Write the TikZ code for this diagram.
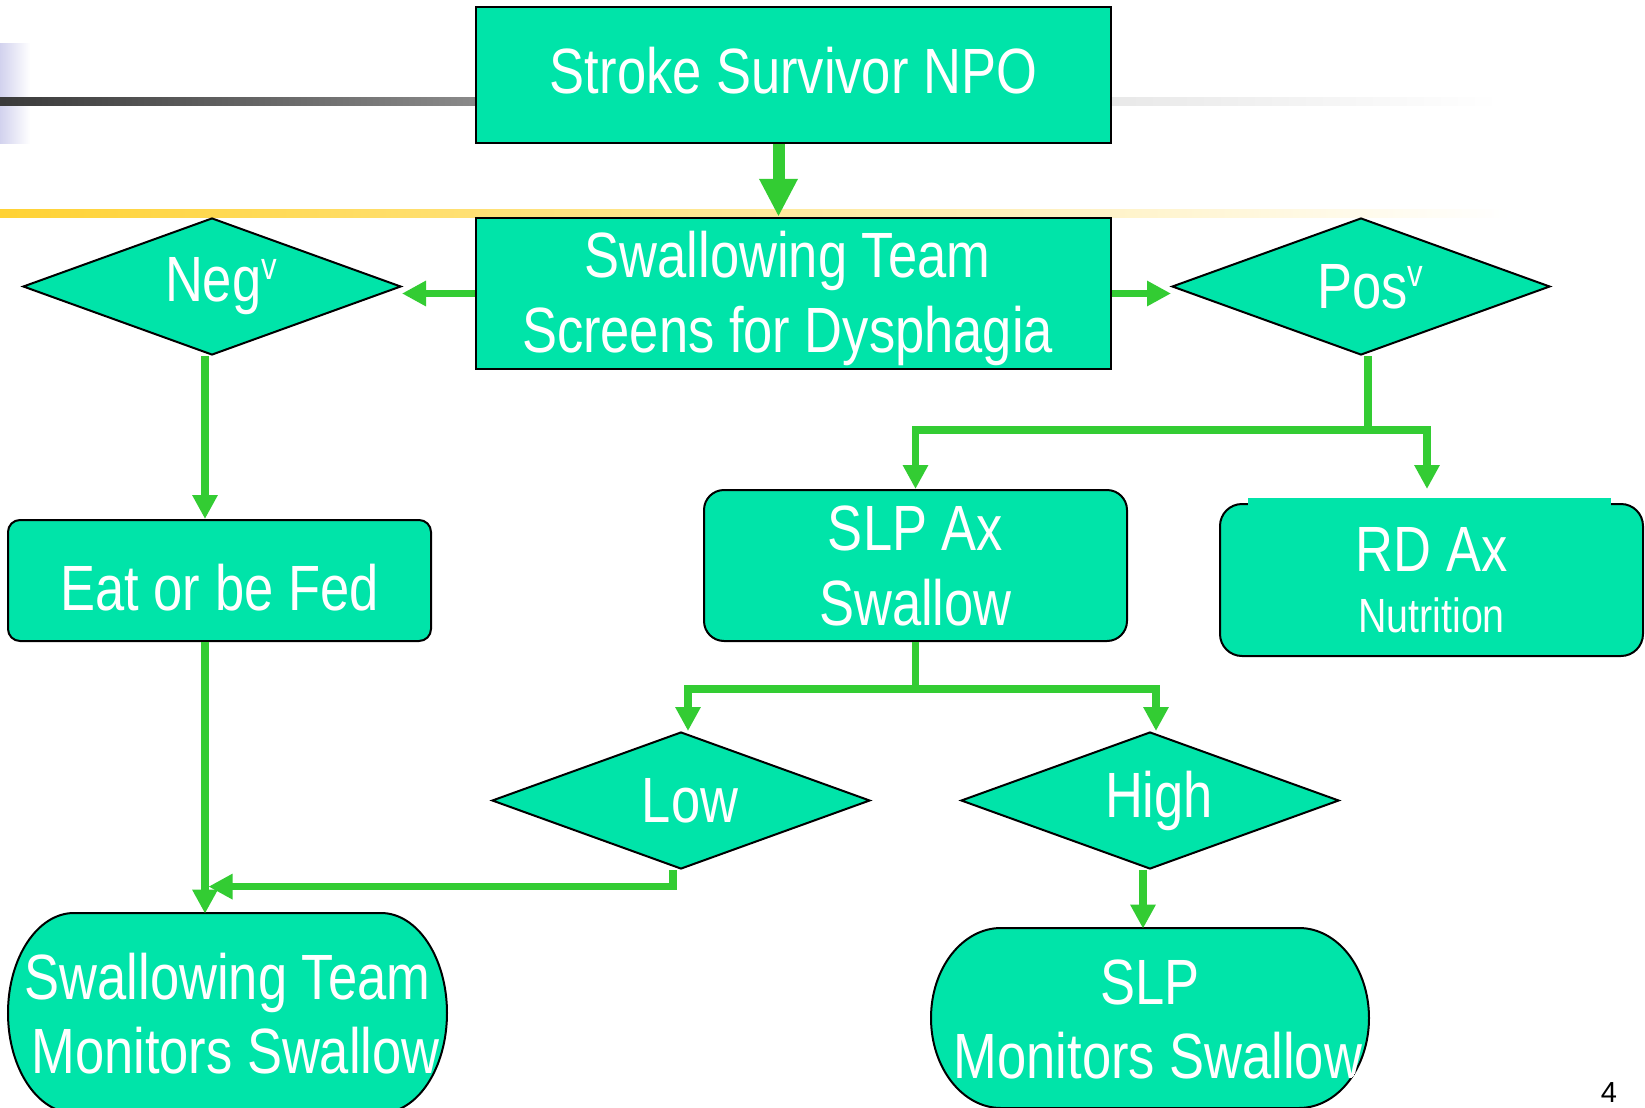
\documentclass[tikz,border=0pt]{standalone}
\usepackage{fontspec}
\setmainfont[FakeStretch=0.82]{Liberation Sans}
\newfontfamily\plainsans{Liberation Sans}
\usetikzlibrary{arrows.meta,shapes.geometric,calc}
\definecolor{boxfill}{HTML}{00E4A9}
\definecolor{arrowgreen}{HTML}{33CC33}
\definecolor{gold}{HTML}{FFD234}
\definecolor{lav}{HTML}{D2D2EE}
\begin{document}
\begin{tikzpicture}[x=0.5pt,y=0.5pt,
  box/.style={draw=black,line width=1.2pt,fill=boxfill,text=white,align=center,
    font=\fontsize{32}{37.5}\selectfont,inner sep=0pt},
  rbox/.style={box,line width=1pt,minimum width=211.5pt},
  dec/.style={draw=black,line width=1pt,fill=boxfill,shape=diamond,aspect=2.76,
    minimum width=189pt,minimum height=68.5pt,inner sep=0pt,text=white,
    font=\fontsize{32}{37.5}\selectfont},
  stad/.style={draw=black,line width=1pt,fill=boxfill},
  stadtext/.style={text=white,align=center,font=\fontsize{32}{37}\selectfont,inner sep=0pt},
  conn/.style={draw=arrowgreen,line width=3.75pt},
  arr/.style={conn,-{Triangle[width=12pt,length=12pt]}},
  bigarr/.style={draw=arrowgreen,line width=6pt,-{Triangle[width=18pt,length=19pt]}},
]
\clip (0,0) rectangle (1645,-1108);
\fill[white] (0,0) rectangle (1645,-1108);

% decorative bars
\shade[left color=lav,right color=white] (0,-43) rectangle (30,-143);
\shade[left color=black!77,right color=black!46] (0,-97) rectangle (476,-105);
\shade[left color=black!9,right color=white] (1111,-97) rectangle (1500,-105);
\shade[left color=gold,right color=white] (0,-209) rectangle (1510,-217);

% boxes
\node[box,minimum width=317.5pt,minimum height=68pt] (top) at (793.5,-75)
  {\raisebox{2pt}[\height][\depth]{Stroke Survivor NPO}};
\node[box,minimum width=317.5pt,minimum height=75.5pt] (box2) at (793.5,-293.5)
  {\hspace*{-6pt}\raisebox{-3pt}[\height][\depth]{\begin{tabular}{@{}c@{}}Swallowing Team\\Screens for Dysphagia\end{tabular}}};
\node[dec] (neg) at (212,-286.5) {\hspace*{9pt}Neg\raisebox{11pt}{\fontsize{19}{19}\selectfont v}};
\node[dec] (pos) at (1361,-286.5) {\hspace*{9pt}Pos\raisebox{11pt}{\fontsize{19}{19}\selectfont v}};
\node[rbox,rounded corners=6pt,minimum height=60.5pt] (eat) at (219.5,-580.5)
  {\raisebox{-3.5pt}[\height][\depth]{Eat or be Fed}};
\node[rbox,rounded corners=10pt,minimum height=75.5pt] (slp) at (915.5,-565.5) {SLP Ax\\Swallow};
\node[rbox,rounded corners=11pt,minimum height=76pt] (rd) at (1431.5,-580)
  {RD Ax\\[-7pt]{\fontsize{24}{28}\selectfont Nutrition}};
\fill[boxfill] (1248,-498) rectangle (1611,-506);
\node[dec] (low) at (681,-800.5) {\hspace*{9pt}Low};
\node[dec] (high) at (1150,-800.5) {\hspace*{9pt}High};

% terminal shapes
\path[stad] (74,-913) -- (381,-913) arc[start angle=90,end angle=-90,x radius=66,y radius=100]
  -- (74,-1113) arc[start angle=270,end angle=90,x radius=66,y radius=100] -- cycle;
\begin{scope}
\clip (74,-913) -- (381,-913) arc[start angle=90,end angle=-90,x radius=66,y radius=100]
  -- (74,-1113) arc[start angle=270,end angle=90,x radius=66,y radius=100] -- cycle;
\node[stadtext,minimum width=219.5pt,minimum height=100pt] (mon1) at (227.5,-1014)
  {Swallowing Team\\\hspace*{8pt}Monitors Swallow};
\end{scope}
\path[stad] (1001,-928) -- (1299,-928) arc[start angle=90,end angle=-90,x radius=70,y radius=90]
  -- (1001,-1108) arc[start angle=270,end angle=90,x radius=70,y radius=90] -- cycle;
\begin{scope}
\clip (1001,-928) -- (1299,-928) arc[start angle=90,end angle=-90,x radius=70,y radius=90]
  -- (1001,-1108) arc[start angle=270,end angle=90,x radius=70,y radius=90] -- cycle;
\node[stadtext,minimum width=219pt,minimum height=90pt] (mon2) at (1150,-1019)
  {SLP\\\hspace*{8pt}Monitors Swallow};
\end{scope}

% connectors
\draw[bigarr] ($(top.south)+(-15,0)$) -- ($(box2.north)+(-15,0)$);
\draw[arr] (box2.west) -- (box2.west -| neg.east);
\draw[arr] (box2.east) -- (box2.east -| pos.west);
\draw[arr] ($(neg.south)+(-7,0)$) -- ($(eat.north)+(-14.5,0)$);
\draw[arr] ($(eat.south)+(-14.5,0)$) -- ($(mon1.north)+(-22.5,0)$);
\draw[arr] ($(low.south)+(-8,0)$) |- ($(mon1.north)+(-19,27)$);
\draw[conn] ($(pos.south)+(7,0)$) -- ++(0,-74) coordinate (pj);
\draw[arr] (pj) -| (slp.north);
\draw[arr] (pj) -| ($(rd.north)+(-4.5,14)$);
\draw[conn] (slp.south) -- ++(0,-47) coordinate (sj);
\draw[arr] (sj) -| ($(low.north)+(7,0)$);
\draw[arr] (sj) -| ($(high.north)+(6,0)$);
\draw[arr] ($(high.south)+(-7,0)$) -- ($(mon2.north)+(-7,0)$);

\node[font=\plainsans\fontsize{14.5}{16}\selectfont,inner sep=0pt] (pnum) at (1609,-1093) {4};
\end{tikzpicture}
\end{document}
